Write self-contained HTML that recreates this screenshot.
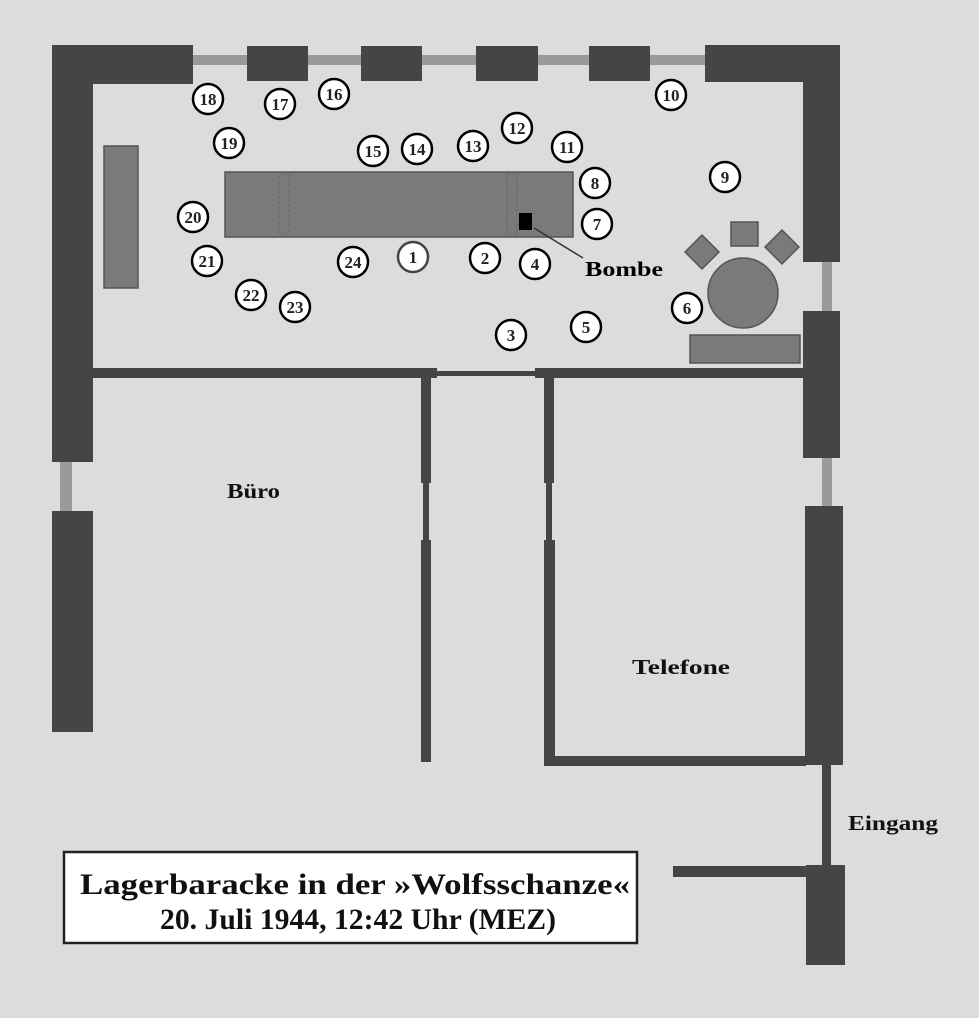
<!DOCTYPE html>
<html><head><meta charset="utf-8"><style>
html,body{margin:0;padding:0;background:#dcdcdc;}
svg{display:block;}
text{font-family:"Liberation Serif",serif;font-weight:bold;}
</style></head><body>
<svg width="979" height="1018" viewBox="0 0 979 1018" xmlns="http://www.w3.org/2000/svg">
<rect width="979" height="1018" fill="#dcdcdc"/>
<g fill="#9a9a9a">
<rect x="193" y="55" width="512" height="10"/>
<rect x="60" y="460" width="12" height="52"/>
<rect x="822" y="260" width="10" height="52"/>
<rect x="822" y="456" width="10" height="52"/>
</g>
<g fill="#454545">
<rect x="52" y="45" width="141" height="39"/>
<rect x="52" y="45" width="41" height="417"/>
<rect x="52" y="511" width="41" height="221"/>
<rect x="247" y="46" width="61" height="35"/>
<rect x="361" y="46" width="61" height="35"/>
<rect x="476" y="46" width="62" height="35"/>
<rect x="589" y="46" width="61" height="35"/>
<rect x="705" y="45" width="135" height="37"/>
<rect x="803" y="45" width="37" height="217"/>
<rect x="803" y="311" width="37" height="147"/>
<rect x="805" y="506" width="38" height="259"/>
<rect x="822" y="765" width="9" height="102"/>
<rect x="806" y="865" width="39" height="100"/>
<rect x="673" y="866" width="133" height="11"/>
<rect x="93" y="368" width="344" height="10"/>
<rect x="437" y="371" width="100" height="5"/>
<rect x="535" y="368" width="270" height="10"/>
<rect x="421" y="378" width="10" height="105"/>
<rect x="423" y="483" width="6" height="57"/>
<rect x="421" y="540" width="10" height="222"/>
<rect x="544" y="378" width="10" height="105"/>
<rect x="546" y="483" width="6" height="57"/>
<rect x="544" y="540" width="11" height="226"/>
<rect x="544" y="756" width="262" height="10"/>
</g>
<g fill="#7a7a7a" stroke="#555" stroke-width="1.5">
<rect x="225" y="172" width="348" height="65"/>
<rect x="104" y="146" width="34" height="142"/>
<rect x="690" y="335" width="110" height="28"/>
<circle cx="743" cy="293" r="35"/>
<rect x="731" y="222" width="27" height="24"/>
<rect x="690" y="240" width="24" height="24" transform="rotate(45 702 252)"/>
<rect x="770" y="235" width="24" height="24" transform="rotate(45 782 247)"/>
</g>
<g fill="none" stroke="#666" stroke-width="1" stroke-dasharray="3,2">
<rect x="279" y="174" width="10" height="60"/>
<rect x="507" y="174" width="10" height="60"/>
</g>
<rect x="519" y="213" width="13" height="17" fill="#000"/>
<line x1="534" y1="228" x2="583" y2="258" stroke="#333" stroke-width="1.5"/>
<text x="585" y="276" font-size="21" textLength="78" lengthAdjust="spacingAndGlyphs">Bombe</text>
<g font-size="17" text-anchor="middle">
<g fill="#fff" stroke="#000" stroke-width="2.5">
<circle cx="208" cy="99" r="15"/><circle cx="280" cy="104" r="15"/><circle cx="334" cy="94" r="15"/>
<circle cx="671" cy="95" r="15"/><circle cx="229" cy="143" r="15"/><circle cx="373" cy="151" r="15"/>
<circle cx="417" cy="149" r="15"/><circle cx="473" cy="146" r="15"/><circle cx="517" cy="128" r="15"/>
<circle cx="567" cy="147" r="15"/><circle cx="595" cy="183" r="15"/><circle cx="725" cy="177" r="15"/>
<circle cx="193" cy="217" r="15"/><circle cx="597" cy="224" r="15"/><circle cx="207" cy="261" r="15"/>
<circle cx="353" cy="262" r="15"/><circle cx="413" cy="257" r="15" stroke="#444"/><circle cx="485" cy="258" r="15"/>
<circle cx="535" cy="264" r="15"/><circle cx="251" cy="295" r="15"/><circle cx="295" cy="307" r="15"/>
<circle cx="687" cy="308" r="15"/><circle cx="511" cy="335" r="15"/><circle cx="586" cy="327" r="15"/>
</g>
<g fill="#222">
<text x="208" y="105">18</text><text x="280" y="110">17</text><text x="334" y="100">16</text>
<text x="671" y="101">10</text><text x="229" y="149">19</text><text x="373" y="157">15</text>
<text x="417" y="155">14</text><text x="473" y="152">13</text><text x="517" y="134">12</text>
<text x="567" y="153">11</text><text x="595" y="189">8</text><text x="725" y="183">9</text>
<text x="193" y="223">20</text><text x="597" y="230">7</text><text x="207" y="267">21</text>
<text x="353" y="268">24</text><text x="413" y="263">1</text><text x="485" y="264">2</text>
<text x="535" y="270">4</text><text x="251" y="301">22</text><text x="295" y="313">23</text>
<text x="687" y="314">6</text><text x="511" y="341">3</text><text x="586" y="333">5</text>
</g>
</g>
<g font-size="21" fill="#111">
<text x="227" y="498" textLength="53" lengthAdjust="spacingAndGlyphs">Büro</text>
<text x="632" y="674" textLength="98" lengthAdjust="spacingAndGlyphs">Telefone</text>
<text x="848" y="830" textLength="90" lengthAdjust="spacingAndGlyphs">Eingang</text>
</g>
<rect x="64" y="852" width="573" height="91" fill="#fff" stroke="#222" stroke-width="2.5"/>
<g font-size="30" fill="#111">
<text x="80" y="894" textLength="550" lengthAdjust="spacingAndGlyphs">Lagerbaracke in der »Wolfsschanze«</text>
<text x="160" y="929" textLength="396" lengthAdjust="spacingAndGlyphs">20. Juli 1944, 12:42 Uhr (MEZ)</text>
</g>
</svg>
</body></html>
